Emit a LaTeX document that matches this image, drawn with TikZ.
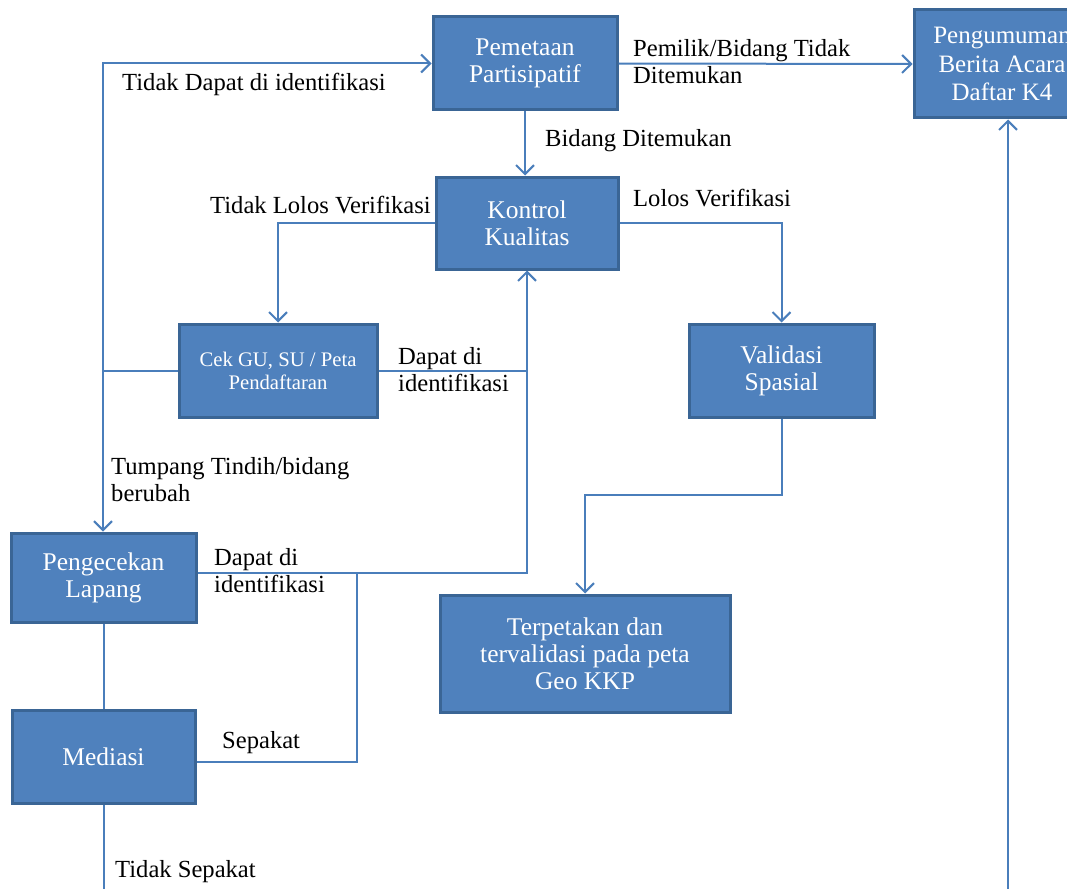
\documentclass[tikz,border=0pt]{standalone}
\usepackage{fontspec}
\setmainfont{Liberation Serif}
\usetikzlibrary{arrows.meta}
\definecolor{boxblue}{HTML}{4F81BD}
\definecolor{boxedge}{HTML}{3A6595}
\definecolor{linkblue}{HTML}{4A7EBB}
\begin{document}
\begin{tikzpicture}[x=1pt,y=-1pt,
  box/.style={rectangle,fill=boxblue,draw=boxedge,line width=3pt,text=white,align=center,inner sep=0pt,font=\fontsize{25.5}{27}\selectfont},
  lbl/.style={inner sep=0pt,anchor=west,align=left,text=black,font=\fontsize{24.6}{27}\selectfont},
  link/.style={draw=linkblue,line width=2pt},
  arr/.style={link,-{Straight Barb[length=9pt,width=18pt,line width=2pt]}}]
\useasboundingbox (0,0) rectangle (1067,888);
\clip (0,0) rectangle (1067,888);
\fill[white] (0,0) rectangle (1067,888);

% boxes
\node[box,minimum width=184pt,minimum height=93pt] (pem) at (525,63.5) {Pemetaan\\Partisipatif};
\node[box,minimum width=176pt,minimum height=108pt,font=\fontsize{25}{28.5}\selectfont] (pen) at (1002,64) {Pengumuman\\Berita Acara\\Daftar K4};
\node[box,minimum width=182pt,minimum height=92pt] (kon) at (527,223) {Kontrol\\Kualitas};
\node[box,minimum width=198pt,minimum height=93pt,font=\fontsize{20.7}{23}\selectfont] (cek) at (278,370.5) {Cek GU, SU / Peta\\Pendaftaran};
\node[box,minimum width=185pt,minimum height=93pt] (val) at (781.5,370.5) {Validasi\\Spasial};
\node[box,minimum width=290pt,minimum height=117pt] (ter) at (585,653.5) {Terpetakan dan\\tervalidasi pada peta\\Geo KKP};
\node[box,minimum width=185pt,minimum height=89pt] (pgc) at (103.5,577.5) {Pengecekan\\Lapang};
\node[box,minimum width=183pt,minimum height=93pt] (med) at (103.5,756.5) {Mediasi};

% helper coordinates
\coordinate (lj) at (103,370.5);
\coordinate (jn) at (kon.south |- cek.east);
\coordinate (pgr) at ([yshift=5pt]pgc.east);
\coordinate (jn2) at (357,572.5);
\coordinate (mdr) at ([yshift=-5pt]med.east);
\coordinate (vb) at (781.5,495);
\coordinate (mb) at (105,892);
\coordinate (pb) at (1008,892);

% connectors
\draw[arr] (pem.east) -- (pen.west);
\draw[arr] (cek.west) -- (lj) |- (pem.west);
\draw[arr] (lj) -- (lj |- pgc.north);
\draw[arr] (pem.south) -- (pem.south |- kon.north);
\draw[arr] (kon.west) -| (cek.north);
\draw[arr] (kon.east) -| (val.north);
\draw[arr] (cek.east) -| (kon.south);
\draw[link] (pgr) -| (jn);
\draw[link] (mdr) -| (jn2);
\draw[link] (pgc.south) -- (med.north);
\draw[link] (med.south) -- (med.south |- mb);
\draw[arr] (pb) -- (pb |- pen.south);
\draw[arr] (val.south) -- (vb) -| (ter.north);

% labels
\node[lbl] (l1) at (633,61.5) {Pemilik/Bidang Tidak\\Ditemukan};
\node[lbl] (l2) at (545,141) {Bidang Ditemukan};
\node[lbl] (l3) at (122,84) {Tidak Dapat di identifikasi};
\node[lbl] (l4) at (210,205) {Tidak Lolos Verifikasi};
\node[lbl] (l5) at (633,198) {Lolos Verifikasi};
\node[lbl] (l6) at (398,370) {Dapat di\\identifikasi};
\node[lbl] (l7) at (111,480) {Tumpang Tindih/bidang\\berubah};
\node[lbl] (l8) at (214,571) {Dapat di\\identifikasi};
\node[lbl] (l9) at (222,743) {Sepakat};
\node[lbl] (l10) at (115,872) {Tidak Sepakat};
\end{tikzpicture}
\end{document}
